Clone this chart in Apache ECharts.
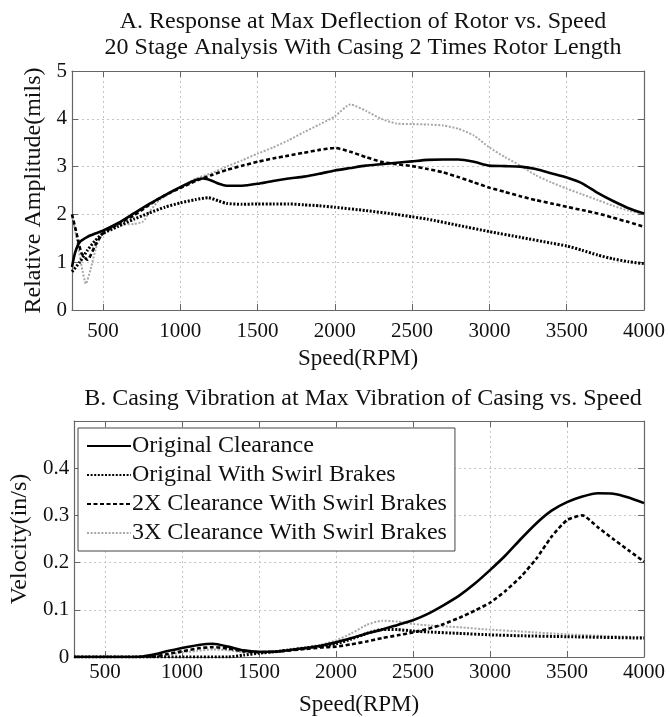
<!DOCTYPE html>
<html>
<head>
<meta charset="utf-8">
<script src="https://cdn.jsdelivr.net/npm/echarts@6/dist/echarts.min.js"></script>
<style>
html,body{margin:0;padding:0;background:#fff;}
#chart{width:670px;height:717px;}
</style>
</head>
<body>
<div id="chart"></div>
<script>
// ---------- DATA ----------
const seriesNames = [
  'Original Clearance',
  'Original With Swirl Brakes',
  '2X Clearance With Swirl Brakes',
  '3X Clearance With Swirl Brakes'
];
const xTicks = [500, 1000, 1500, 2000, 2500, 3000, 3500, 4000];

// Chart A: relative amplitude (mils) vs speed (RPM)
const ampOriginal = [[300,0.9],[320,1.2],[350,1.42],[400,1.53],[450,1.6],[500,1.66],[600,1.82],[700,2.02],[800,2.22],[900,2.4],[1000,2.57],[1100,2.72],[1150,2.75],[1200,2.71],[1250,2.64],[1300,2.6],[1400,2.6],[1500,2.64],[1600,2.7],[1700,2.75],[1800,2.79],[1900,2.85],[2000,2.92],[2100,2.97],[2200,3.02],[2300,3.05],[2400,3.08],[2500,3.11],[2600,3.14],[2700,3.15],[2800,3.15],[2900,3.1],[3000,3.02],[3100,3.01],[3200,3.0],[3300,2.95],[3400,2.86],[3500,2.77],[3600,2.65],[3700,2.45],[3800,2.28],[3900,2.13],[4000,2.02]];
const ampOrigSwirl = [[300,0.8],[350,1.0],[400,1.25],[450,1.45],[500,1.6],[600,1.75],[700,1.9],[800,2.03],[900,2.15],[1000,2.24],[1100,2.31],[1180,2.35],[1250,2.28],[1300,2.23],[1400,2.21],[1500,2.22],[1600,2.22],[1700,2.22],[1800,2.2],[1900,2.18],[2000,2.15],[2200,2.08],[2400,2.0],[2500,1.95],[2600,1.9],[2800,1.77],[3000,1.64],[3200,1.52],[3400,1.4],[3500,1.34],[3600,1.25],[3700,1.15],[3800,1.07],[3900,1.01],[4000,0.97]];
const amp2X = [[300,2.0],[330,1.6],[360,1.2],[400,1.05],[450,1.35],[500,1.6],[600,1.8],[700,1.98],[800,2.2],[900,2.4],[1000,2.55],[1100,2.7],[1200,2.82],[1300,2.93],[1400,3.02],[1500,3.1],[1600,3.17],[1700,3.23],[1800,3.29],[1900,3.35],[2000,3.39],[2100,3.31],[2200,3.2],[2300,3.1],[2400,3.05],[2500,3.01],[2600,2.95],[2700,2.88],[2800,2.78],[2900,2.67],[3000,2.56],[3100,2.47],[3200,2.38],[3300,2.3],[3400,2.23],[3500,2.16],[3600,2.09],[3700,2.02],[3800,1.93],[3900,1.84],[4000,1.74]];
const amp3X = [[300,2.0],[330,1.5],[360,0.95],[390,0.55],[420,0.85],[460,1.35],[500,1.6],[600,1.78],[700,1.8],[760,1.85],[800,2.05],[866,2.3],[1000,2.56],[1100,2.75],[1200,2.86],[1300,3.0],[1400,3.13],[1500,3.27],[1600,3.4],[1700,3.55],[1800,3.72],[1900,3.88],[2000,4.05],[2100,4.3],[2200,4.17],[2300,4.0],[2400,3.9],[2500,3.89],[2600,3.88],[2700,3.86],[2800,3.79],[2900,3.65],[3000,3.4],[3100,3.2],[3200,3.02],[3300,2.82],[3400,2.67],[3500,2.54],[3600,2.42],[3700,2.3],[3800,2.18],[3900,2.08],[4000,2.01]];

// Chart B: casing velocity (in/s) vs speed (RPM)
const velOriginal = [[300,0],[700,0],[800,0.004],[900,0.012],[1000,0.019],[1100,0.025],[1200,0.028],[1300,0.022],[1400,0.014],[1500,0.011],[1600,0.011],[1700,0.015],[1800,0.019],[1900,0.024],[2000,0.031],[2100,0.04],[2200,0.05],[2300,0.058],[2400,0.068],[2500,0.078],[2600,0.092],[2700,0.11],[2800,0.13],[2900,0.155],[3000,0.184],[3100,0.215],[3200,0.25],[3300,0.283],[3400,0.31],[3500,0.328],[3600,0.34],[3700,0.347],[3800,0.346],[3900,0.338],[4000,0.326]];
const velOrigSwirl = [[300,0],[1300,0],[1400,0.004],[1500,0.008],[1600,0.011],[1700,0.015],[1800,0.019],[1900,0.023],[2000,0.028],[2100,0.038],[2200,0.05],[2300,0.058],[2400,0.058],[2500,0.055],[2600,0.053],[2800,0.05],[3000,0.047],[3200,0.045],[3500,0.043],[4000,0.04]];
const vel2X = [[300,0],[800,0],[900,0.006],[1000,0.012],[1100,0.018],[1200,0.021],[1300,0.018],[1400,0.012],[1500,0.01],[1600,0.011],[1700,0.014],[1800,0.017],[1900,0.02],[2000,0.022],[2100,0.027],[2200,0.033],[2300,0.04],[2400,0.046],[2500,0.052],[2600,0.06],[2700,0.07],[2800,0.083],[2900,0.098],[3000,0.115],[3100,0.14],[3200,0.17],[3300,0.208],[3400,0.255],[3500,0.29],[3600,0.3],[3700,0.275],[3800,0.25],[3900,0.226],[4000,0.202]];
const vel3X = [[300,0],[800,0],[900,0.004],[1000,0.009],[1100,0.013],[1200,0.016],[1300,0.014],[1400,0.01],[1500,0.009],[1600,0.011],[1700,0.015],[1800,0.02],[1900,0.026],[2000,0.035],[2100,0.05],[2200,0.068],[2300,0.077],[2400,0.075],[2500,0.07],[2600,0.067],[2800,0.063],[3000,0.058],[3200,0.054],[3500,0.048],[3800,0.044],[4000,0.042]];

// ---------- STYLE ----------
const FONT = '"Liberation Serif","Times New Roman",serif';
const lineStyles = [
  {color:'#000', width:2.6, type:'solid'},
  {color:'#000', width:3, type:[2,1.6]},
  {color:'#000', width:2.6, type:[4,2.5]},
  {color:'#a8a8a8', width:2, type:[2,1.6]}
];
const axisColor = '#666';
const gridLine = {show:true, lineStyle:{color:'#c4c4c4', type:[2,3], width:1}};

function xAxisFor(gridIndex, labelMargin, nameGap) {
  return [{
    type:'value', gridIndex, min:300, max:4000, position:'bottom',
    name:'Speed(RPM)', nameLocation:'middle', nameGap,
    nameTextStyle:{fontFamily:FONT, fontSize:23, color:'#111'},
    axisLine:{show:true, onZero:false, lineStyle:{color:axisColor, width:1.2}},
    axisTick:{show:true, inside:true, length:6, customValues:xTicks, lineStyle:{color:axisColor}},
    axisLabel:{customValues:xTicks, fontFamily:FONT, fontSize:21, color:'#111', margin:labelMargin,
               formatter:v => String(v)},
    splitLine:gridLine
  },{
    type:'value', gridIndex, min:300, max:4000, position:'top',
    axisLine:{show:true, onZero:false, lineStyle:{color:axisColor, width:1.2}},
    axisTick:{show:true, inside:true, length:6, customValues:xTicks, lineStyle:{color:axisColor}},
    axisLabel:{show:false}, splitLine:{show:false}
  }];
}

function yAxisFor(gridIndex, max, interval, name, nameGap, fmt) {
  return [{
    type:'value', gridIndex, min:0, max, interval, position:'left',
    name, nameLocation:'middle', nameGap,
    nameTextStyle:{fontFamily:FONT, fontSize:24, color:'#111'},
    axisLine:{show:true, onZero:false, lineStyle:{color:axisColor, width:1.2}},
    axisTick:{show:true, inside:true, length:6, lineStyle:{color:axisColor}},
    axisLabel:{fontFamily:FONT, fontSize:21, color:'#111', margin:5, formatter:fmt},
    splitLine:gridLine
  },{
    type:'value', gridIndex, min:0, max, interval, position:'right',
    axisLine:{show:true, onZero:false, lineStyle:{color:axisColor, width:1.2}},
    axisTick:{show:true, inside:true, length:6, lineStyle:{color:axisColor}},
    axisLabel:{show:false}, splitLine:{show:false}
  }];
}

const topData = [ampOriginal, ampOrigSwirl, amp2X, amp3X];
const botData = [velOriginal, velOrigSwirl, vel2X, vel3X];
const drawOrder = [3, 2, 1, 0];

const series = [];
drawOrder.forEach(i => {
  series.push({type:'line', name:seriesNames[i], xAxisIndex:0, yAxisIndex:0, data:topData[i],
    symbol:'none', smooth:0.2, lineStyle:lineStyles[i], itemStyle:{color:lineStyles[i].color}, z:2+(3-i)});
});
drawOrder.forEach(i => {
  series.push({type:'line', name:seriesNames[i], xAxisIndex:2, yAxisIndex:2, data:botData[i],
    symbol:'none', smooth:0.2, lineStyle:lineStyles[i], itemStyle:{color:lineStyles[i].color}, z:2+(3-i)});
});

const titleStyle = {fontFamily:FONT, fontSize:24, fontWeight:'normal', color:'#111'};
const chart = echarts.init(document.getElementById('chart'), null, {renderer:'canvas'});
chart.setOption({
  animation:false,
  backgroundColor:'#fff',
  title:[
    {text:'A. Response at Max Deflection of Rotor vs. Speed', left:358, textAlign:'center', top:5, textStyle:titleStyle},
    {text:'20 Stage Analysis With Casing 2 Times Rotor Length', left:358, textAlign:'center', top:31, textStyle:titleStyle},
    {text:'B. Casing Vibration at Max Vibration of Casing vs. Speed', left:358, textAlign:'center', top:382, textStyle:titleStyle}
  ],
  grid:[
    {left:72, top:71, width:572, height:239},
    {left:72, top:421, width:572, height:239}
  ],
  xAxis:[...xAxisFor(0, 11, 37), ...xAxisFor(1, 5, 36)],
  yAxis:[
    ...yAxisFor(0, 5, 1, 'Relative Amplitude(mils)', 14, v => String(v)),
    ...yAxisFor(1, 0.5, 0.1, 'Velocity(in/s)', 37, v => (v === 0 ? '0' : (v > 0.45 ? '' : v.toFixed(1))))
  ],
  legend:{
    show:true, orient:'vertical', left:78, top:428,
    data:seriesNames,
    itemWidth:44, itemHeight:12, itemGap:5,
    padding:[6,8,6,8],
    borderColor:'#444', borderWidth:1, backgroundColor:'#fff',
    itemStyle:{color:'rgba(0,0,0,0)', borderColor:'rgba(0,0,0,0)', borderWidth:0, opacity:0},
    textStyle:{fontFamily:FONT, fontSize:24, color:'#111', padding:[0,0,0,-4]},
    selectedMode:false
  },
  series
});
</script>
</body>
</html>
